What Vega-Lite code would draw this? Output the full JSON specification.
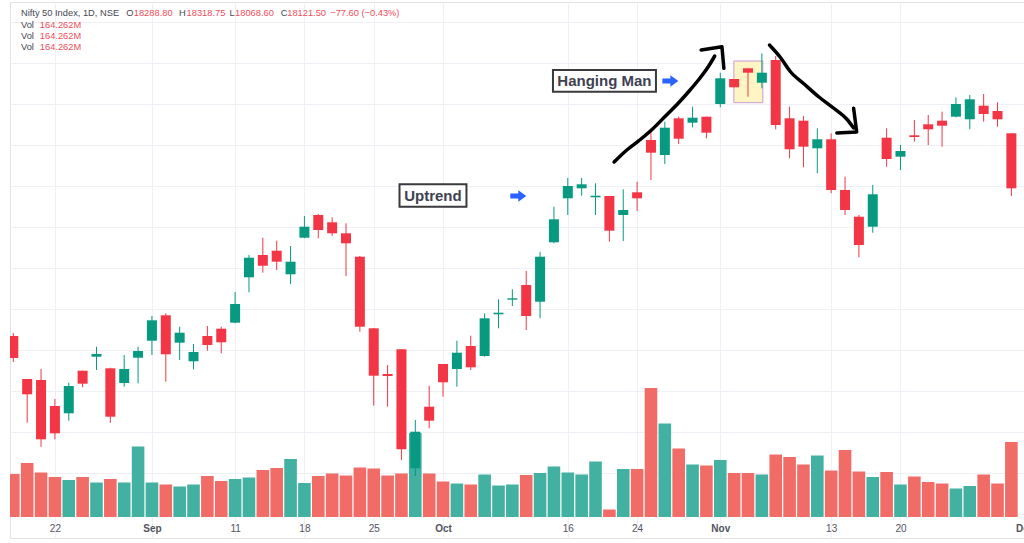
{
  "$schema": "https://vega.github.io/schema/vega-lite/v6.json",
  "width": 1014,
  "height": 536,
  "padding": {"left": 10, "top": 2, "right": 0, "bottom": 5},
  "autosize": {"type": "none"},
  "background": "#ffffff",
  "config": {
    "view": {"stroke": "#e0e3eb", "strokeWidth": 1},
    "font": "Liberation Sans"
  },
  "datasets": {
    "candles": [
      {"i":0,"o":16640,"h":16670,"l":16380,"c":16420,"v":86},
      {"i":1,"o":16210,"h":16210,"l":15773,"c":16057,"v":108},
      {"i":2,"o":16200,"h":16310,"l":15533,"c":15607,"v":89},
      {"i":3,"o":15940,"h":16010,"l":15607,"c":15667,"v":80},
      {"i":4,"o":15867,"h":16173,"l":15793,"c":16140,"v":74},
      {"i":5,"o":16293,"h":16293,"l":16127,"c":16163,"v":80},
      {"i":6,"o":16433,"h":16533,"l":16300,"c":16460,"v":69},
      {"i":7,"o":16317,"h":16323,"l":15773,"c":15833,"v":76},
      {"i":8,"o":16170,"h":16450,"l":16133,"c":16310,"v":69},
      {"i":9,"o":16423,"h":16533,"l":16167,"c":16490,"v":141},
      {"i":10,"o":16593,"h":16840,"l":16450,"c":16797,"v":69},
      {"i":11,"o":16847,"h":16867,"l":16183,"c":16457,"v":65},
      {"i":12,"o":16573,"h":16733,"l":16400,"c":16673,"v":61},
      {"i":13,"o":16387,"h":16560,"l":16307,"c":16480,"v":65},
      {"i":14,"o":16640,"h":16740,"l":16493,"c":16550,"v":82},
      {"i":15,"o":16713,"h":16733,"l":16467,"c":16577,"v":72},
      {"i":16,"o":16773,"h":17080,"l":16767,"c":16960,"v":76},
      {"i":17,"o":17227,"h":17450,"l":17077,"c":17423,"v":79},
      {"i":18,"o":17450,"h":17623,"l":17273,"c":17343,"v":94},
      {"i":19,"o":17493,"h":17593,"l":17300,"c":17383,"v":98},
      {"i":20,"o":17257,"h":17540,"l":17160,"c":17383,"v":116},
      {"i":21,"o":17623,"h":17840,"l":17617,"c":17733,"v":68},
      {"i":22,"o":17850,"h":17860,"l":17617,"c":17700,"v":82},
      {"i":23,"o":17777,"h":17827,"l":17640,"c":17667,"v":87},
      {"i":24,"o":17667,"h":17767,"l":17240,"c":17567,"v":83},
      {"i":25,"o":17433,"h":17440,"l":16683,"c":16733,"v":99},
      {"i":26,"o":16717,"h":16720,"l":15943,"c":16243,"v":97},
      {"i":27,"o":16260,"h":16350,"l":15933,"c":16240,"v":83},
      {"i":28,"o":16507,"h":16510,"l":15400,"c":15507,"v":87},
      {"i":29,"o":15317,"h":15800,"l":15240,"c":15683,"v":168},
      {"i":30,"o":15933,"h":16143,"l":15717,"c":15793,"v":87},
      {"i":31,"o":16360,"h":16360,"l":16033,"c":16177,"v":71},
      {"i":32,"o":16310,"h":16593,"l":16133,"c":16473,"v":67},
      {"i":33,"o":16540,"h":16643,"l":16300,"c":16327,"v":65},
      {"i":34,"o":16440,"h":16867,"l":16433,"c":16817,"v":85},
      {"i":35,"o":16857,"h":17007,"l":16717,"c":16873,"v":63},
      {"i":36,"o":17003,"h":17107,"l":16940,"c":17017,"v":65},
      {"i":37,"o":17150,"h":17290,"l":16700,"c":16840,"v":84},
      {"i":38,"o":16983,"h":17483,"l":16817,"c":17433,"v":88},
      {"i":39,"o":17577,"h":17933,"l":17567,"c":17807,"v":101},
      {"i":40,"o":18017,"h":18220,"l":17850,"c":18140,"v":89},
      {"i":41,"o":18117,"h":18220,"l":18043,"c":18157,"v":85},
      {"i":42,"o":18027,"h":18167,"l":17850,"c":18043,"v":111},
      {"i":43,"o":18040,"h":18040,"l":17583,"c":17693,"v":15},
      {"i":44,"o":17850,"h":18107,"l":17590,"c":17900,"v":96},
      {"i":45,"o":18077,"h":18183,"l":17890,"c":18017,"v":96},
      {"i":46,"o":18600,"h":18700,"l":18200,"c":18473,"v":258},
      {"i":47,"o":18450,"h":18783,"l":18360,"c":18723,"v":187},
      {"i":48,"o":18817,"h":18833,"l":18560,"c":18613,"v":137},
      {"i":49,"o":18773,"h":18933,"l":18727,"c":18823,"v":105},
      {"i":50,"o":18833,"h":18833,"l":18617,"c":18673,"v":103},
      {"i":51,"o":18960,"h":19273,"l":18927,"c":19217,"v":114},
      {"i":52,"o":19210,"h":19210,"l":19127,"c":19127,"v":88},
      {"i":53,"o":19317,"h":19317,"l":19033,"c":19273,"v":88},
      {"i":54,"o":19173,"h":19467,"l":19117,"c":19273,"v":85},
      {"i":55,"o":19400,"h":19440,"l":18707,"c":18750,"v":125},
      {"i":56,"o":18817,"h":18933,"l":18417,"c":18507,"v":120},
      {"i":57,"o":18793,"h":18840,"l":18327,"c":18533,"v":105},
      {"i":58,"o":18517,"h":18717,"l":18267,"c":18607,"v":123},
      {"i":59,"o":18607,"h":18667,"l":18067,"c":18100,"v":93},
      {"i":60,"o":18100,"h":18233,"l":17850,"c":17900,"v":134},
      {"i":61,"o":17833,"h":17850,"l":17427,"c":17550,"v":91},
      {"i":62,"o":17733,"h":18150,"l":17673,"c":18057,"v":80},
      {"i":63,"o":18623,"h":18717,"l":18333,"c":18410,"v":90},
      {"i":64,"o":18433,"h":18550,"l":18300,"c":18490,"v":65},
      {"i":65,"o":18647,"h":18800,"l":18583,"c":18630,"v":81},
      {"i":66,"o":18757,"h":18850,"l":18550,"c":18707,"v":70},
      {"i":67,"o":18793,"h":18883,"l":18533,"c":18743,"v":67},
      {"i":68,"o":18833,"h":19027,"l":18827,"c":18960,"v":57},
      {"i":69,"o":18807,"h":19050,"l":18707,"c":19007,"v":62},
      {"i":70,"o":18943,"h":19060,"l":18783,"c":18860,"v":85},
      {"i":71,"o":18890,"h":18977,"l":18733,"c":18807,"v":67},
      {"i":72,"o":18667,"h":18667,"l":18040,"c":18117,"v":150}
    ],
    "highlight": [{"i":51.98,"i2":54.07,"p":19390,"p2":18973}],
    "boxes": [
      {"txt":"Hanging Man","i":38.93,"i2":46.36,"p":19300,"p2":19083,"ti":42.64,"tp":19190},
      {"txt":"Uptrend","i":27.86,"i2":32.69,"p":18157,"p2":17933,"ti":30.27,"tp":18040}
    ],
    "arrows": [{"i":47.4,"p":19190},{"i":36.43,"p":18040}],
    "curves": [
      {"s":"u","k":0,"i":43.34,"p":18380},
      {"s":"u","k":1,"i":44.26,"p":18500},
      {"s":"u","k":2,"i":45.19,"p":18600},
      {"s":"u","k":3,"i":46.12,"p":18710},
      {"s":"u","k":4,"i":47.05,"p":18840},
      {"s":"u","k":5,"i":47.98,"p":18970},
      {"s":"u","k":6,"i":48.76,"p":19090},
      {"s":"u","k":7,"i":49.48,"p":19210},
      {"s":"u","k":8,"i":50.12,"p":19330},
      {"s":"u","k":9,"i":50.6,"p":19440},
      {"s":"d","k":0,"i":54.55,"p":19550},
      {"s":"d","k":1,"i":55.34,"p":19425},
      {"s":"d","k":2,"i":56.05,"p":19285},
      {"s":"d","k":3,"i":57.05,"p":19160},
      {"s":"d","k":4,"i":58.12,"p":19030},
      {"s":"d","k":5,"i":59.26,"p":18910},
      {"s":"d","k":6,"i":60.12,"p":18810},
      {"s":"d","k":7,"i":60.62,"p":18720}
    ],
    "heads": [
      {"s":"u","k":0,"i":49.62,"p":19500},
      {"s":"u","k":1,"i":51.12,"p":19533},
      {"s":"u","k":2,"i":51.26,"p":19317},
      {"s":"d","k":0,"i":60.62,"p":18917},
      {"s":"d","k":1,"i":60.84,"p":18680},
      {"s":"d","k":2,"i":59.41,"p":18670}
    ],
    "hdrDark": [
      {"txt":"Nifty 50 Index, 1D, NSE","i":0.55,"p":19867},
      {"txt":"O","i":8.14,"p":19867},
      {"txt":"H","i":11.96,"p":19867},
      {"txt":"L","i":15.6,"p":19867},
      {"txt":"C","i":19.29,"p":19867},
      {"txt":"Vol","i":0.55,"p":19750},
      {"txt":"Vol","i":0.55,"p":19643},
      {"txt":"Vol","i":0.55,"p":19533}
    ],
    "hdrRed": [
      {"txt":"18288.80","i":8.69,"p":19867},
      {"txt":"18318.75","i":12.5,"p":19867},
      {"txt":"18068.60","i":16.0,"p":19867},
      {"txt":"18121.50","i":19.76,"p":19867},
      {"txt":"−77.60 (−0.43%)","i":22.86,"p":19867},
      {"txt":"164.262M","i":1.91,"p":19750},
      {"txt":"164.262M","i":1.91,"p":19643},
      {"txt":"164.262M","i":1.91,"p":19533}
    ],
    "dec": [{"txt":"Dec","i":73,"p":14715}]
  },
  "encoding": {
    "x": {
      "field": "i",
      "type": "quantitative",
      "scale": {"domain": [0.1214, 72.55], "nice": false, "zero": false},
      "axis": {
        "title": null,
        "values": [3,10,16,21,26,31,40,45,51,59,64],
        "labelExpr": "datum.value == 3 ? '22' : datum.value == 10 ? 'Sep' : datum.value == 16 ? '11' : datum.value == 21 ? '18' : datum.value == 26 ? '25' : datum.value == 31 ? 'Oct' : datum.value == 40 ? '16' : datum.value == 45 ? '24' : datum.value == 51 ? 'Nov' : datum.value == 59 ? '13' : datum.value == 64 ? '20' : ''",
        "domain": false,
        "ticks": false,
        "tickSize": 0,
        "labelPadding": -9.5,
        "labelBaseline": "middle",
        "labelFontSize": 10,
        "labelColor": "#50535e",
        "labelFontWeight": {"condition": {"test": "datum.value == 10 || datum.value == 31 || datum.value == 51", "value": "bold"}, "value": "normal"},
        "labelOverlap": false,
        "labelFlush": false,
        "grid": true,
        "gridColor": "#eef0f5",
        "gridWidth": 1
      }
    }
  },
  "layer": [
    {
      "data": {"name": "candles"},
      "mark": {"type": "bar", "width": 12.6, "clip": true},
      "encoding": {
        "y": {"field": "v", "type": "quantitative", "scale": {"domain": [-42, 1030], "nice": false, "zero": false}, "axis": null},
        "y2": {"datum": 0},
        "color": {"condition": {"test": "datum.c >= datum.o", "value": "#43b1a2"}, "value": "#f16b67"}
      }
    },
    {
      "layer": [
        {
          "data": {"name": "highlight"},
          "mark": {"type": "rect", "fill": "#fff5c4", "stroke": "#c99bd6", "strokeWidth": 1},
          "encoding": {
            "x2": {"field": "i2"},
            "y": {"field": "p", "type": "quantitative", "scale": {"domain": [14620, 19980], "nice": false, "zero": false},
              "axis": {"title": null, "labels": false, "ticks": false, "domain": false, "grid": true, "gridColor": "#eef0f5",
                "values": [19780,19370,18960,18550,18140,17730,17320,16910,16500,16090,15680,15270,14860]}},
            "y2": {"field": "p2"}
          }
        },
        {
          "data": {"name": "candles"},
          "mark": {"type": "rule", "strokeWidth": 1, "clip": true},
          "encoding": {
            "y": {"field": "l", "type": "quantitative", "scale": {"domain": [14620, 19980], "nice": false, "zero": false}},
            "y2": {"field": "h"},
            "color": {"condition": {"test": "datum.c >= datum.o", "value": "#089981"}, "value": "#f23645"}
          }
        },
        {
          "data": {"name": "candles"},
          "mark": {"type": "bar", "width": 10, "clip": true},
          "encoding": {
            "y": {"field": "o", "type": "quantitative", "scale": {"domain": [14620, 19980], "nice": false, "zero": false}},
            "y2": {"field": "c"},
            "color": {"condition": {"test": "datum.c >= datum.o", "value": "#089981"}, "value": "#f23645"}
          }
        },
        {
          "data": {"name": "boxes"},
          "mark": {"type": "rect", "fill": "#ffffff", "stroke": "#3a3a3e", "strokeWidth": 2},
          "encoding": {
            "x2": {"field": "i2"},
            "y": {"field": "p", "type": "quantitative", "scale": {"domain": [14620, 19980], "nice": false, "zero": false}},
            "y2": {"field": "p2"}
          }
        },
        {
          "data": {"name": "boxes"},
          "mark": {"type": "text", "fontSize": 15, "fontWeight": "bold", "color": "#3d4150", "align": "center", "baseline": "middle", "font": "Liberation Sans"},
          "encoding": {
            "x": {"field": "ti", "type": "quantitative"},
            "y": {"field": "tp", "type": "quantitative", "scale": {"domain": [14620, 19980], "nice": false, "zero": false}},
            "text": {"field": "txt"}
          }
        },
        {
          "data": {"name": "arrows"},
          "mark": {"type": "point", "filled": true, "opacity": 1, "color": "#2962ff", "size": 256,
            "shape": "M-1,-0.3L0,-0.3L0,-0.73L1,0L0,0.73L0,0.3L-1,0.3Z"},
          "encoding": {
            "y": {"field": "p", "type": "quantitative", "scale": {"domain": [14620, 19980], "nice": false, "zero": false}}
          }
        },
        {
          "data": {"name": "curves"},
          "mark": {"type": "line", "color": "#000000", "strokeWidth": 3.5, "strokeCap": "round", "strokeJoin": "round", "interpolate": "monotone"},
          "encoding": {
            "y": {"field": "p", "type": "quantitative", "scale": {"domain": [14620, 19980], "nice": false, "zero": false}},
            "detail": {"field": "s"},
            "order": {"field": "k", "type": "quantitative"}
          }
        },
        {
          "data": {"name": "heads"},
          "mark": {"type": "line", "color": "#000000", "strokeWidth": 3.5, "strokeCap": "round", "strokeJoin": "round"},
          "encoding": {
            "y": {"field": "p", "type": "quantitative", "scale": {"domain": [14620, 19980], "nice": false, "zero": false}},
            "detail": {"field": "s"},
            "order": {"field": "k", "type": "quantitative"}
          }
        },
        {
          "data": {"name": "hdrDark"},
          "mark": {"type": "text", "fontSize": 9.3, "color": "#434651", "align": "left", "baseline": "middle", "font": "Liberation Sans"},
          "encoding": {
            "y": {"field": "p", "type": "quantitative", "scale": {"domain": [14620, 19980], "nice": false, "zero": false}},
            "text": {"field": "txt"}
          }
        },
        {
          "data": {"name": "hdrRed"},
          "mark": {"type": "text", "fontSize": 9.3, "color": "#f04d5a", "align": "left", "baseline": "middle", "font": "Liberation Sans"},
          "encoding": {
            "y": {"field": "p", "type": "quantitative", "scale": {"domain": [14620, 19980], "nice": false, "zero": false}},
            "text": {"field": "txt"}
          }
        },
        {
          "data": {"name": "dec"},
          "mark": {"type": "text", "fontSize": 10, "fontWeight": "bold", "color": "#50535e", "align": "center", "baseline": "middle", "font": "Liberation Sans"},
          "encoding": {
            "y": {"field": "p", "type": "quantitative", "scale": {"domain": [14620, 19980], "nice": false, "zero": false}},
            "text": {"field": "txt"}
          }
        }
      ]
    }
  ],
  "resolve": {"scale": {"y": "independent"}, "axis": {"y": "independent"}}
}
